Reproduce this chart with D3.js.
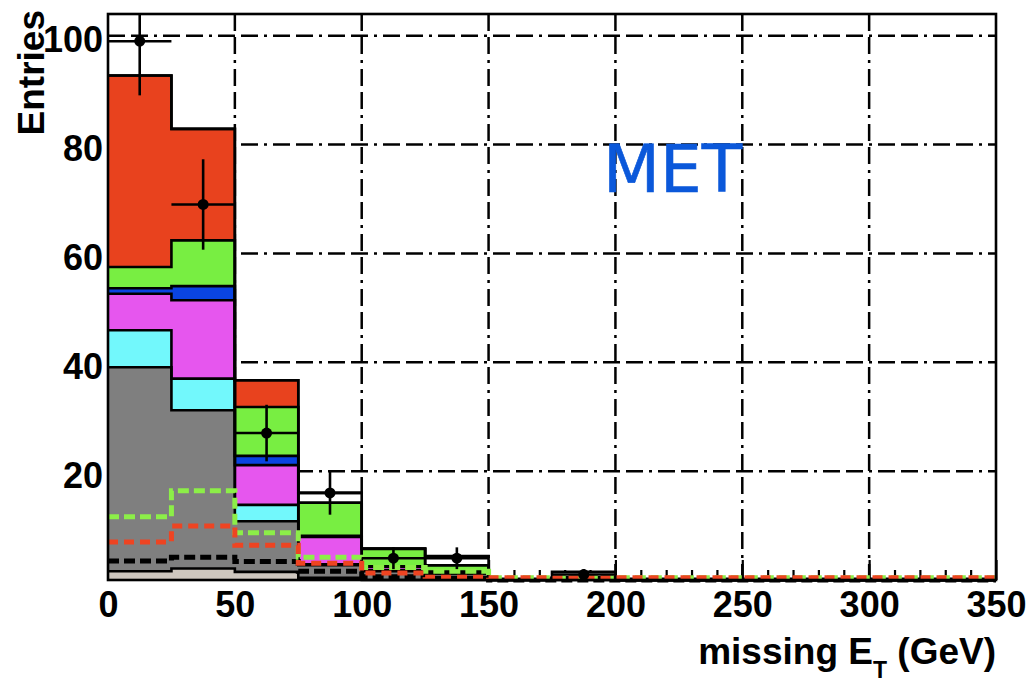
<!DOCTYPE html>
<html>
<head>
<meta charset="utf-8">
<script src="https://cdn.jsdelivr.net/npm/d3@7"></script>
<style>
  body { margin: 0; background: #fff; }
  text { font-family: 'Liberation Sans', Arial, Helvetica, sans-serif; font-weight: bold; }
</style>
</head>
<body>
<svg width="1030" height="682"></svg>
<script>
// bins of 25 GeV, lower edges
const binLow = [0, 25, 50, 75, 100, 125, 150, 175, 200, 225, 250, 275, 300, 325];
const binWidth = 25;

// stacked MC components, per bin contributions (bottom to top)
const beigeVals   = [1.6, 2.1, 1.5, 0.4, 0, 0, 0, 0, 0, 0, 0, 0, 0, 0];
const grayVals    = [37.5, 29.1, 9.3, 2.3, 1.6, 1.2, 0, 0.3, 0, 0, 0, 0, 0, 0];
const cyanVals    = [6.8, 5.8, 3.0, 0.2, 0.2, 0, 0, 0, 0, 0, 0, 0, 0, 0];
const magentaVals = [6.7, 14.4, 7.3, 5.0, 0.6, 0.3, 0, 0, 0, 0, 0, 0, 0, 0];
const blueVals    = [1.0, 2.6, 1.7, 0.2, 0.1, 0, 0, 0, 0, 0, 0, 0, 0, 0];
const greenVals   = [3.9, 8.4, 9.0, 6.1, 3.2, 1.2, 0.1, 0.2, 0, 0, 0, 0, 0, 0];
const redVals     = [35.2, 20.5, 4.9, 0, 0.1, 0, 0, 0, 0, 0, 0, 0, 0, 0];
const whiteVals   = [0, 0, 0, 1.8, 0, 1.7, 0, 1.0, 0, 0, 0, 0, 0, 0];

// overlaid (unstacked) dashed histograms
const greenDashVals = [11.6, 16.4, 8.7, 4.2, 2.3, 1.6, 0.4, 0.4, 0.4, 0.4, 0.4, 0.4, 0.4, 0.4];
const redDashVals   = [7.0, 9.9, 6.4, 3.1, 1.3, 0.5, 0.4, 0.4, 0.4, 0.4, 0.4, 0.4, 0.4, 0.4];
const blackDashVals = [3.5, 4.2, 3.4, 1.6, 0.6, 0.3, 0, 0, 0, 0, 0, 0, 0, 0];

// data
const dataVals = [99, 69, 27, 16, 4, 4, 0, 1, 0, 0, 0, 0, 0, 0];

const xTicks = [0, 50, 100, 150, 200, 250, 300, 350];
const xMinorTicks = [10, 20, 30, 40, 60, 70, 80, 90, 110, 120, 130, 140, 160, 170, 180, 190,
  210, 220, 230, 240, 260, 270, 280, 290, 310, 320, 330, 340];
const yTicks = [20, 40, 60, 80, 100];
const xGrid = [50, 100, 150, 200, 250, 300];
const yGrid = [20, 40, 60, 80, 100];

const stackKeys = ['beige', 'gray', 'cyan', 'magenta', 'blue', 'green', 'red', 'white'];
const stackColors = {
  beige: '#cec7bf', gray: '#7f7f7f', cyan: '#72f8fc', magenta: '#e656ee',
  blue: '#0a44e2', green: '#78ee42', red: '#e8421e', white: '#ffffff'
};

const svg = d3.select('svg');
const xScale = d3.scaleLinear().domain([0, 350]).range([108, 996]);
const yScale = d3.scaleLinear().domain([0, 104]).range([580, 14]).clamp(true);

// grid
const gridG = svg.append('g').attr('class', 'grid');
gridG.selectAll('line.vg')
  .data(xGrid)
  .enter()
  .append('line')
  .attr('class', 'vg')
  .attr('x1', d => xScale(d)).attr('x2', d => xScale(d))
  .attr('y1', yScale(104)).attr('y2', yScale(0));
gridG.selectAll('line.hg')
  .data(yGrid)
  .enter()
  .append('line')
  .attr('class', 'hg')
  .attr('x1', xScale(0)).attr('x2', xScale(350))
  .attr('y1', d => yScale(d)).attr('y2', d => yScale(d));
gridG.selectAll('line')
  .style('stroke', '#000')
  .style('stroke-width', 2.5)
  .style('stroke-dasharray', '17,6,17,6,3,6');

// axes (ticks sit under the histograms)
const xAxisMinor = d3.axisBottom(xScale).tickValues(xMinorTicks).tickSize(-10).tickFormat('');
const xAxis = d3.axisBottom(xScale).tickValues(xTicks).tickSize(-20).tickPadding(11).tickFormat(d3.format('d'));
const yAxis = d3.axisLeft(yScale).tickValues(yTicks).tickSize(0).tickPadding(5);

svg.append('g').attr('transform', 'translate(0,580)').call(xAxisMinor);
svg.append('g').attr('class', 'xaxis').attr('transform', 'translate(0,580)').call(xAxis);
svg.append('g').attr('class', 'yaxis').attr('transform', 'translate(108,0)').call(yAxis);
svg.selectAll('.domain').remove();
svg.selectAll('.tick line').style('stroke', '#000').style('stroke-width', 2.2);
svg.selectAll('.tick text')
  .style('font-size', '36px')
  .style('fill', '#000');
svg.select('.yaxis').selectAll('text').attr('dy', '0.45em');

// stacked histogram
const rows = binLow.map((x, i) => ({
  x,
  beige: beigeVals[i], gray: grayVals[i], cyan: cyanVals[i], magenta: magentaVals[i],
  blue: blueVals[i], green: greenVals[i], red: redVals[i], white: whiteVals[i]
}));
const series = d3.stack().keys(stackKeys)(rows);

function stepPoints(lo, hi) {
  const pts = binLow.map((x, i) => ({ x, lo: lo[i], hi: hi[i] }));
  const last = pts[pts.length - 1];
  pts.push({ x: last.x + binWidth, lo: last.lo, hi: last.hi });
  return pts;
}

const area = d3.area()
  .curve(d3.curveStepAfter)
  .x(p => xScale(p.x))
  .y0(p => yScale(p.lo))
  .y1(p => yScale(p.hi));
const topLine = d3.line()
  .curve(d3.curveStepAfter)
  .x(p => xScale(p.x))
  .y(p => yScale(p.hi));

const stackG = svg.append('g').attr('class', 'stack');
const layerPts = series.map(s => ({
  key: s.key,
  pts: stepPoints(s.map(d => d[0]), s.map(d => d[1]))
}));

stackG.selectAll('path.band')
  .data(layerPts)
  .enter()
  .append('path')
  .attr('class', 'band')
  .attr('d', d => area(d.pts))
  .style('fill', d => stackColors[d.key])
  .style('stroke', 'none');

stackG.selectAll('path.edge')
  .data(layerPts)
  .enter()
  .append('path')
  .attr('class', 'edge')
  .attr('d', d => topLine(d.pts))
  .style('fill', 'none')
  .style('stroke', '#000')
  .style('stroke-width', 2.6);

// overlays
const overlays = [
  { vals: blackDashVals, color: '#000', dash: '11,5' },
  { vals: greenDashVals, color: '#8cee48', dash: '11,5' },
  { vals: redDashVals, color: '#ee4422', dash: '10,6' }
];
const zeros = binLow.map(() => 0);
svg.append('g')
  .selectAll('path')
  .data(overlays)
  .enter()
  .append('path')
  .attr('d', d => topLine(stepPoints(zeros, d.vals)))
  .style('fill', 'none')
  .style('stroke', d => d.color)
  .style('stroke-width', 5)
  .style('stroke-dasharray', d => d.dash);

// frame
svg.append('rect')
  .attr('x', xScale(0))
  .attr('y', yScale(104))
  .attr('width', xScale(350) - xScale(0))
  .attr('height', yScale(0) - yScale(104))
  .style('fill', 'none')
  .style('stroke', '#000')
  .style('stroke-width', 2.6);

// data points with error bars
const points = binLow
  .map((x, i) => ({ x, v: dataVals[i] }))
  .filter(d => d.v > 0);
const ptG = svg.append('g')
  .selectAll('g')
  .data(points)
  .enter()
  .append('g');
ptG.append('line')
  .attr('x1', d => xScale(d.x)).attr('x2', d => xScale(d.x + binWidth))
  .attr('y1', d => yScale(d.v)).attr('y2', d => yScale(d.v));
ptG.append('line')
  .attr('x1', d => xScale(d.x + binWidth / 2)).attr('x2', d => xScale(d.x + binWidth / 2))
  .attr('y1', d => yScale(d.v + Math.sqrt(d.v))).attr('y2', d => yScale(d.v - Math.sqrt(d.v)));
ptG.selectAll('line').style('stroke', '#000').style('stroke-width', 2.6);
ptG.append('circle')
  .attr('cx', d => xScale(d.x + binWidth / 2))
  .attr('cy', d => yScale(d.v))
  .attr('r', 5.5)
  .style('fill', '#000');

// titles
svg.append('text')
  .attr('transform', 'translate(44,10) rotate(-90)')
  .attr('text-anchor', 'end')
  .style('font-size', '37px')
  .text('Entries');

const xTitle = svg.append('text')
  .attr('x', 996)
  .attr('y', 664)
  .attr('text-anchor', 'end')
  .style('font-size', '37px');
xTitle.append('tspan').text('missing E');
xTitle.append('tspan').attr('dy', 14).style('font-size', '23px').text('T');
xTitle.append('tspan').attr('dy', -14).text(' (GeV)');

svg.append('text')
  .attr('x', 603)
  .attr('y', 192)
  .style('font-family', "'DejaVu Sans', sans-serif")
  .style('font-weight', 'normal')
  .style('font-size', '66px')
  .style('fill', '#0b58da')
  .style('stroke', '#0b58da')
  .style('stroke-width', 0.6)
  .text('MET');
</script>
</body>
</html>
